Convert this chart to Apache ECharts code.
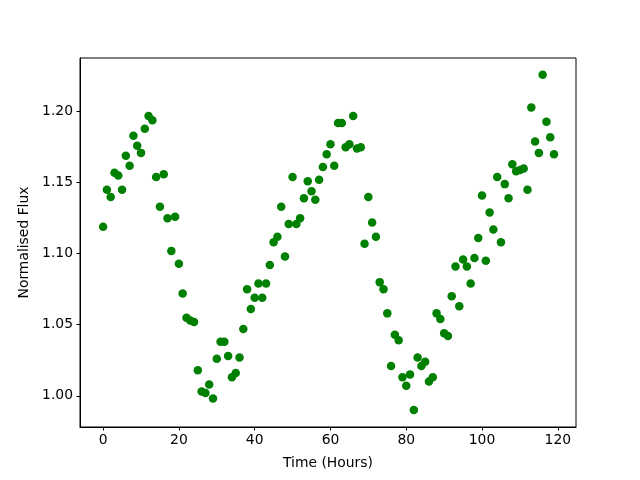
<!DOCTYPE html>
<html>
<head>
<meta charset="utf-8">
<script src="https://cdn.jsdelivr.net/npm/echarts@6/dist/echarts.min.js"></script>
<style>
  html, body { margin: 0; padding: 0; background: #fff; }
  #chart { width: 640px; height: 480px; }
</style>
</head>
<body>
<div id="chart"></div>
<script>
// hours 0..119
const hours = Array.from({ length: 120 }, (_, i) => i);

// normalised flux per hour
const flux = [
    1.119, 1.145, 1.140, 1.157, 1.155, 1.145, 1.169, 1.162, 1.183, 1.176,
    1.171, 1.188, 1.197, 1.194, 1.154, 1.133, 1.156, 1.125, 1.102, 1.126,
    1.093, 1.072, 1.055, 1.053, 1.052, 1.018, 1.003, 1.002, 1.008, 0.998,
    1.026, 1.038, 1.038, 1.028, 1.013, 1.016, 1.027, 1.047, 1.075, 1.061,
    1.069, 1.079, 1.069, 1.079, 1.092, 1.108, 1.112, 1.133, 1.098, 1.121,
    1.154, 1.121, 1.125, 1.139, 1.151, 1.144, 1.138, 1.152, 1.161, 1.170,
    1.177, 1.162, 1.192, 1.192, 1.175, 1.177, 1.197, 1.174, 1.175, 1.107,
    1.140, 1.122, 1.112, 1.080, 1.075, 1.058, 1.021, 1.043, 1.039, 1.013,
    1.007, 1.015, 0.990, 1.027, 1.021, 1.024, 1.010, 1.013, 1.058, 1.054,
    1.044, 1.042, 1.070, 1.091, 1.063, 1.096, 1.091, 1.079, 1.097, 1.111,
    1.141, 1.095, 1.129, 1.117, 1.154, 1.108, 1.149, 1.139, 1.163, 1.158,
    1.159, 1.160, 1.145, 1.203, 1.179, 1.171, 1.226, 1.193, 1.182, 1.170
];

const xTicks = [0, 20, 40, 60, 80, 100, 120];
const yTicks = [1.00, 1.05, 1.10, 1.15, 1.20];

const chart = echarts.init(document.getElementById('chart'), null, { renderer: 'canvas' });

const font = 'DejaVu Sans';
// matplotlib-like margins around data
const xMin = -6.1, xMax = 124.8;
const yMin = 0.978, yMax = 1.2378;

const option = {
    backgroundColor: '#fff',
    animation: false,
    grid: {
        left: 80, right: 64, top: 58, bottom: 53,
        show: true, borderColor: '#000', borderWidth: 1, backgroundColor: 'transparent'
    },
    xAxis: {
        type: 'value',
        min: xMin, max: xMax,
        name: 'Time (Hours)',
        nameLocation: 'middle',
        nameGap: 29,
        nameTextStyle: { fontFamily: font, fontSize: 13.9, color: '#000' },
        axisLine: { show: true, onZero: false, lineStyle: { color: '#000', width: 1 } },
        axisTick: { show: true, inside: false, length: 3.5, lineStyle: { color: '#000' }, customValues: xTicks },
        axisLabel: { fontFamily: font, fontSize: 13.9, color: '#000', margin: 6, customValues: xTicks, formatter: v => String(v) },
        splitLine: { show: false }
    },
    yAxis: {
        type: 'value',
        min: yMin, max: yMax,
        name: 'Normalised Flux',
        nameLocation: 'middle',
        nameGap: 44,
        nameTextStyle: { fontFamily: font, fontSize: 13.9, color: '#000' },
        axisLine: { show: true, onZero: false, lineStyle: { color: '#000', width: 1 } },
        axisTick: { show: true, inside: false, length: 3.5, lineStyle: { color: '#000' }, customValues: yTicks },
        axisLabel: { fontFamily: font, fontSize: 13.9, color: '#000', margin: 7, customValues: yTicks, formatter: v => v.toFixed(2) },
        splitLine: { show: false }
    },
    series: [{
        type: 'scatter',
        symbol: 'circle',
        symbolSize: 8.5,
        itemStyle: { color: '#008000', opacity: 1 },
        data: hours.map((h, i) => [h, flux[i]])
    }]
};

chart.setOption(option);
</script>
</body>
</html>
